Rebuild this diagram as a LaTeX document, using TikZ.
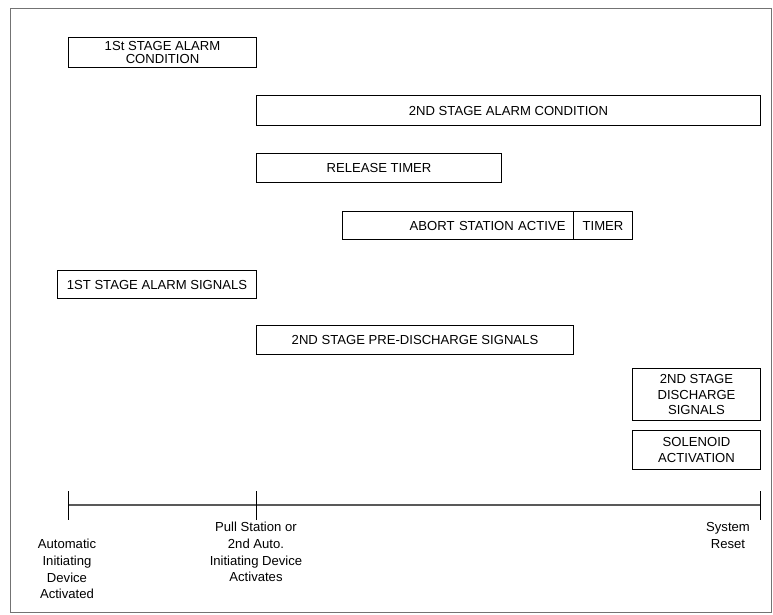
\documentclass[tikz,border=0pt]{standalone}
\usepackage{fontspec}
\setmainfont{Liberation Sans}
\begin{document}
\begin{tikzpicture}[x=1pt,y=-1pt,
  box/.style={draw=black, line width=1pt, inner sep=0pt, anchor=north west, align=center, font=\fontsize{13.1}{15.3}\selectfont},
  lbl/.style={inner sep=0pt, anchor=north, align=center, font=\fontsize{13.1}{16.7}\selectfont},
  frame/.style={draw=black!55, line width=1pt},
  axis/.style={draw=black!65, line width=1.2pt},
  tick/.style={draw=black, line width=1pt}]
\useasboundingbox (0,0) rectangle (773,614);
\draw[frame] (10,8) rectangle (771,612);

\node[box, minimum width=188pt, minimum height=30pt, font=\fontsize{13.1}{13.5}\selectfont] (c1) at (68,37) {1St STAGE ALARM\\CONDITION};
\node[box, minimum width=504pt, minimum height=30pt] (c2) at (256,95) {2ND STAGE ALARM CONDITION};
\node[box, minimum width=245pt, minimum height=29pt] (rt) at (256,153) {RELEASE TIMER};
\node[box, text width=215pt, inner xsep=8pt, align=right, minimum height=28pt] (ab) at (342,211) {ABORT STATION ACTIVE};
\node[box, minimum width=59pt, minimum height=28pt] (tm) at (573,211) {TIMER};
\node[box, minimum width=199pt, minimum height=28pt] (s1) at (57,270) {1ST STAGE ALARM SIGNALS};
\node[box, minimum width=317pt, minimum height=29pt] (s2) at (256,325) {2ND STAGE PRE-DISCHARGE SIGNALS};
\node[box, minimum width=128pt, minimum height=52pt] (ds) at (632,368) {2ND STAGE\\DISCHARGE\\SIGNALS};
\node[box, minimum width=128pt, minimum height=39pt] (sol) at (632,430) {SOLENOID\\ACTIVATION};

\coordinate (t0) at (68,505);
\coordinate (t1) at (256,505);
\coordinate (t2) at (760,505);
\draw[axis] (t0) -- (t1) -- (t2);
\draw[tick] (t0) ++(0,-14) -- ++(0,29);
\draw[tick] (t1) ++(0,-14) -- ++(0,29);
\draw[tick] (t2) ++(0,-14) -- ++(0,29);

\node[lbl] (l0) at (67,539) {Automatic\\Initiating\\Device\\Activated};
\node[lbl] (l1) at (256,522) {Pull Station or\\2nd Auto.\\Initiating Device\\Activates};
\node[lbl] (l2) at (728,522) {System\\Reset};
\end{tikzpicture}
\end{document}
